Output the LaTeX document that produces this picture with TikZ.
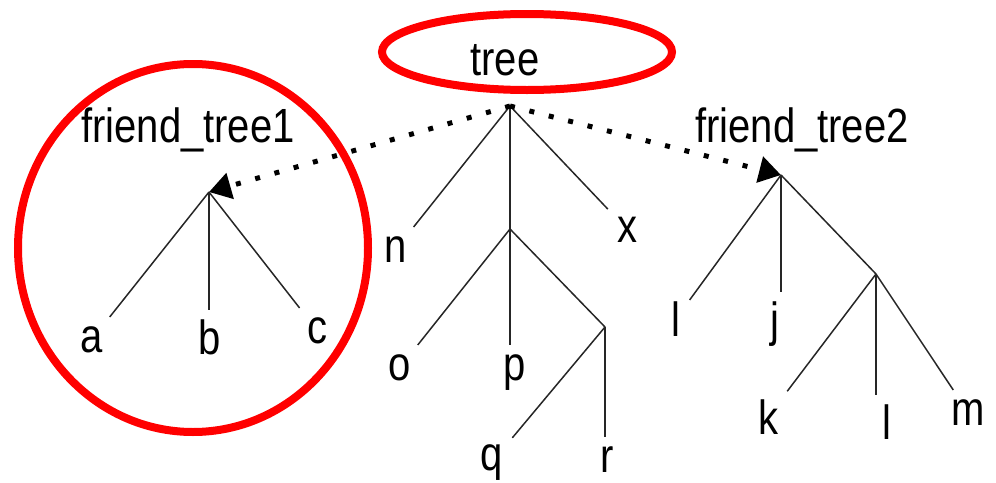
\documentclass[tikz,border=0pt]{standalone}
\usepackage{fontspec}
\setmainfont{Liberation Sans}
\usetikzlibrary{arrows.meta,calc}

\newcommand{\tall}[1]{\scalebox{1}[1.2]{#1}}

\tikzset{
  lbl/.style={font=\fontsize{40}{40}\selectfont, inner sep=9pt, anchor=base},
  branch/.style={line width=1.5pt, black!85},
  link/.style={line width=5pt, dash pattern=on 5pt off 15pt,
    -{Triangle[length=22pt,width=26pt]}},
  ring/.style={draw=red, line width=8pt},
}

\begin{document}
\begin{tikzpicture}[x=1pt,y=-1pt]
\useasboundingbox (0,0) rectangle (996,482);

% branch points
\coordinate (root) at (510,106);
\coordinate (ft1) at (209,192);
\coordinate (ft2) at (781,175);
\coordinate (pv) at (510,229);
\coordinate (qv) at (605,327);
\coordinate (kv) at (876,274);

% labels
\node[lbl] (tree) at (505,75) {\tall{tree}};
\node[lbl] (fname1) at (188,142) {\tall{friend\_tree1}};
\node[lbl] (fname2) at (802,142) {\tall{friend\_tree2}};

\node[lbl] (n) at (396,262) {\tall{n}};
\node[lbl] (x) at (627,242) {\tall{x}};
\node[lbl] (o) at (400,380) {\tall{o}};
\node[lbl] (p) at (515,380) {\tall{p}};
\node[lbl] (q) at (492,470) {\tall{q}};
\node[lbl] (r) at (607,472) {\tall{r}};

\node[lbl] (a) at (92,352) {\tall{a}};
\node[lbl] (b) at (210,354) {\tall{b}};
\node[lbl] (c) at (317,343) {\tall{c}};

\node[lbl] (i) at (676,336) {\tall{l}};
\node[lbl] (j) at (775,336) {\tall{j}};
\node[lbl] (k) at (768,434) {\tall{k}};
\node[lbl] (l) at (887,439) {\tall{l}};
\node[lbl] (m) at (968,425) {\tall{m}};

% main tree
\draw[branch] (root) -- (n);
\draw[branch] (root) -- (pv);
\draw[branch] (root) -- (x);
\draw[branch] (pv) -- (o);
\draw[branch] (pv) -- (pv |- p.north);
\draw[branch] (pv) -- (qv);
\draw[branch] (qv) -- (q);
\draw[branch] (qv) -- (qv |- r.north);

% friend trees
\draw[branch] (ft1) -- (a);
\draw[branch] (ft1) -- (ft1 |- b.north);
\draw[branch] (ft1) -- (c);
\draw[branch] (ft2) -- (i);
\draw[branch] (ft2) -- (ft2 |- j.north);
\draw[branch] (ft2) -- (kv);
\draw[branch] (kv) -- (k);
\draw[branch] (kv) -- (kv |- l.north);
\draw[branch] (kv) -- (m);

% friend links
\draw[link] (root) -- (ft1);
\draw[link] (root) -- (ft2);

% highlights
\draw[ring] (527,52) ellipse [x radius=145pt, y radius=38pt];
\draw[ring] (193,248) ellipse [x radius=175pt, y radius=184pt];
\end{tikzpicture}
\end{document}
